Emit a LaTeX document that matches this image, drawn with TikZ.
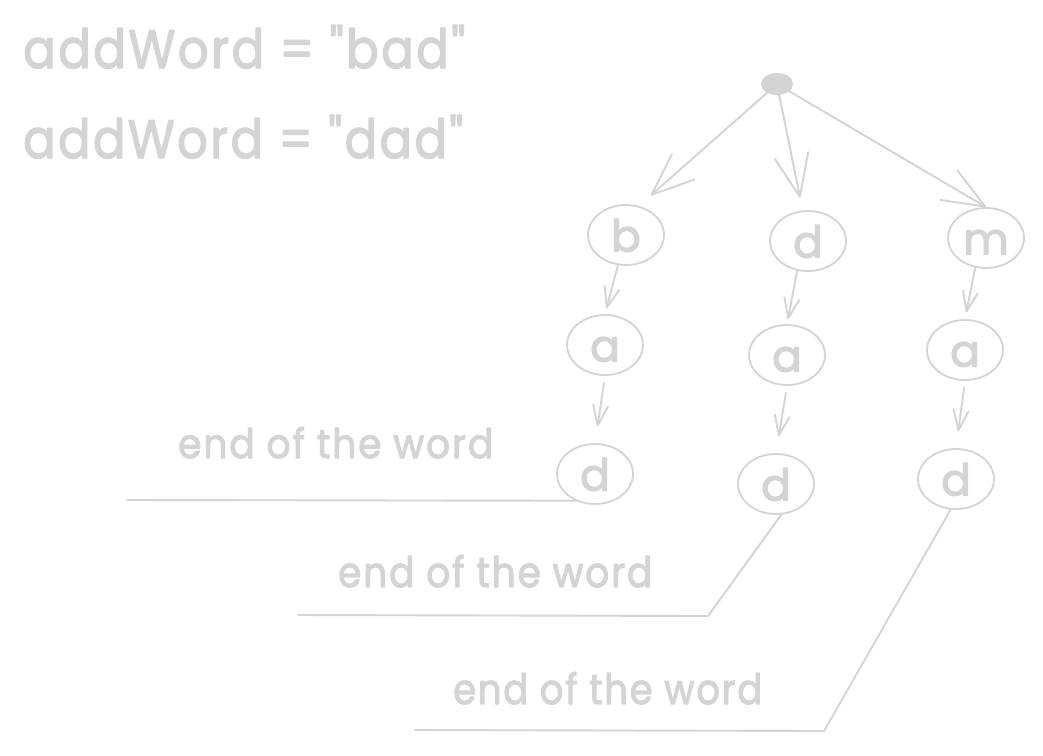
\documentclass[tikz,border=0pt]{standalone}
\usepackage{fontspec}
\setmainfont{Poppins}
\newfontfamily\skfont{Poppins}[FakeBold=2.6, LetterSpace=5]
\newfontfamily\sknode{Poppins}[FakeBold=2.6]
\usepackage{graphicx}
\usetikzlibrary{arrows.meta,shapes.geometric}
\definecolor{sk}{RGB}{212,212,212}
\begin{document}
\begin{tikzpicture}[x=1pt,y=-1pt, line cap=round, line join=round,
  every node/.style={text=sk, font=\skfont},
  trie/.style={draw=sk, line width=1.8pt, ellipse, minimum width=76pt, minimum height=60pt, inner sep=0pt, font=\sknode\fontsize{44}{46}\selectfont, text height=33pt, text depth=0pt},
  edge/.style={draw=sk, line width=1.9pt},
  bigtip/.style={-{Straight Barb[length=42pt,width=34pt,round]}},
  smalltip/.style={-{Straight Barb[length=20pt,width=15pt,round]}},
  lbl/.style={anchor=base west, inner sep=0pt}
]
\useasboundingbox[fill=white] (0,0) rectangle (1043,755);

% titles
\node[lbl] (w1) at (23,68) {\resizebox{442pt}{43pt}{addWord = "bad"}};
\node[lbl] (w2) at (23,158) {\resizebox{440pt}{43pt}{addWord = "dad"}};

% root
\node[ellipse, fill=sk, minimum width=32pt, minimum height=22pt, inner sep=0pt] (root) at (777,84) {};

% trie nodes
\node[trie] (b)  at (626,235) {b};
\node[trie] (dt) at (808,241) {d};
\node[trie] (m)  at (986,238) {m};
\node[trie] (a1) at (605,345) {a};
\node[trie] (a2) at (787,355) {a};
\node[trie] (a3) at (965,350) {a};
\node[trie] (d1) at (595,474) {d};
\node[trie] (d2) at (776,484) {d};
\node[trie] (d3) at (956,479) {d};

% arrows from root
\draw[edge,bigtip,shorten >=16pt] (root) -- (b.66);
\draw[edge,bigtip,shorten >=13pt] (root) -- (dt.100);
\draw[edge,bigtip] (root) -- (m.north);

% vertical arrows
\draw[edge,smalltip,shorten >=6pt] (b.255) -- (a1.north);
\draw[edge,smalltip,shorten <=7pt,shorten >=17pt] (a1.south) -- (d1.north);
\draw[edge,smalltip,shorten >=5pt] (dt.250) -- (a2.north);
\draw[edge,smalltip,shorten <=7pt,shorten >=17pt] (a2.south) -- (d2.north);
\draw[edge,smalltip,shorten >=7pt] (m.250) -- (a3.north);
\draw[edge,smalltip,shorten <=7pt,shorten >=17pt] (a3.south) -- (d3.north);

% end-of-word markers
\coordinate (e1) at (127,500);
\draw[edge] (d1.234) -- (e1);
\coordinate (k2) at (708,616);
\coordinate (e2) at (298,615);
\draw[edge] (d2.280) -- (k2) -- (e2);
\coordinate (k3) at (824,731);
\coordinate (e3) at (415,730);
\draw[edge] (d3.260) -- (k3) -- (e3);

\node[lbl] (l1) at (178,458) {\resizebox{315pt}{31pt}{end of the word}};
\node[lbl] (l2) at (338,587) {\resizebox{314pt}{32pt}{end of the word}};
\node[lbl] (l3) at (453,704) {\resizebox{309pt}{32pt}{end of the word}};
\end{tikzpicture}
\end{document}
